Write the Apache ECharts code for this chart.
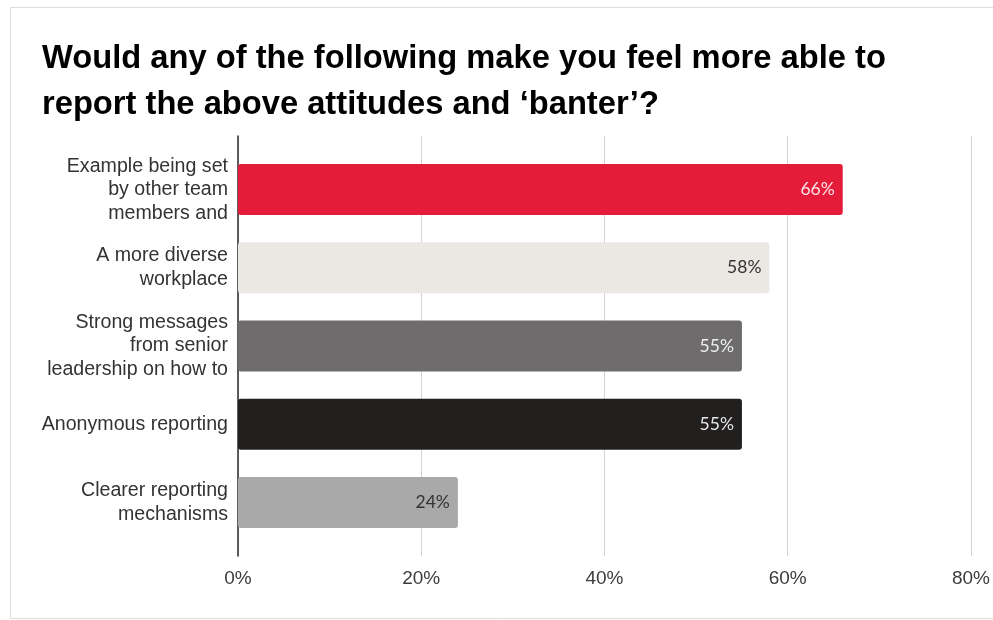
<!DOCTYPE html>
<html>
<head>
<meta charset="utf-8">
<title>Reporting attitudes and banter</title>
<script src="https://cdn.jsdelivr.net/npm/echarts@6/dist/echarts.min.js"></script>
<style>
  html, body { margin: 0; padding: 0; background: #ffffff; }
  #chart { width: 993px; height: 620px; }
</style>
</head>
<body>
<div id="chart"></div>
<script>
// Survey answers, top to bottom
const categories = [
  'Example being set\nby other team\nmembers and',
  'A more diverse\nworkplace',
  'Strong messages\nfrom senior\nleadership on how to',
  'Anonymous reporting',
  'Clearer reporting\nmechanisms'
];
// Share of respondents (%)
const values = [66, 58, 55, 55, 24];
// Per-bar fill and value-label colours
const barColors = ['#e41c3a', '#ebe8e4', '#6e6c6c', '#221f1f', '#a9a9a9'];
const labelColors = ['#fbe3e6', '#333333', '#eeeeee', '#e6e6e6', '#333333'];
// Horizontal scale
const xMin = 0, xMax = 80, xStep = 20;

const chart = echarts.init(document.getElementById('chart'), null, { renderer: 'canvas' });

const FONT = '"Liberation Sans", Arial, sans-serif';

const option = {
  backgroundColor: '#ffffff',
  animation: false,
  title: {
    text: 'Would any of the following make you feel more able to\nreport the above attitudes and \u2018banter\u2019?',
    left: 42,
    top: 36,
    padding: 0,
    textStyle: {
      fontFamily: FONT,
      fontWeight: 'bold',
      fontSize: 32.7,
      lineHeight: 46,
      color: '#000000'
    }
  },
  graphic: [{
    type: 'rect',
    silent: true,
    z: -10,
    shape: { x: 10.5, y: 7.5, width: 1000, height: 611 },
    style: { fill: 'none', stroke: '#dddddd', lineWidth: 1 }
  }],
  grid: [
    // frame grid: gridlines and the left axis line
    { left: 238, right: 22, top: 136, bottom: 64 },
    // bar grid
    { left: 238, right: 22, top: 150.5, bottom: 78.5 }
  ],
  xAxis: [{
    gridIndex: 0,
    type: 'value',
    min: xMin, max: xMax, interval: xStep,
    axisLine: { show: false },
    axisTick: { show: false },
    splitLine: { show: true, lineStyle: { color: '#d3d3d3', width: 1 } },
    axisLabel: {
      formatter: '{value}%',
      fontFamily: FONT,
      fontSize: 19,
      color: '#3c3c3c',
      margin: 13
    }
  }, {
    gridIndex: 1,
    type: 'value',
    min: xMin, max: xMax, interval: xStep,
    show: false
  }],
  yAxis: [{
    gridIndex: 0,
    type: 'value',
    min: 0, max: 1,
    axisLine: { show: true, onZero: false, lineStyle: { color: '#2a2a2a', width: 1.5 } },
    axisTick: { show: false },
    axisLabel: { show: false },
    splitLine: { show: false }
  }, {
    gridIndex: 1,
    type: 'category',
    inverse: true,
    data: categories,
    axisLine: { show: false },
    axisTick: { show: false },
    splitLine: { show: false },
    axisLabel: {
      fontFamily: FONT,
      fontSize: 19.6,
      lineHeight: 23.5,
      color: '#333333',
      align: 'right',
      margin: 10
    }
  }],
  series: [{
    type: 'bar',
    xAxisIndex: 1,
    yAxisIndex: 1,
    barWidth: 51,
    data: values.map((v, i) => ({
      value: v,
      itemStyle: { color: barColors[i], borderRadius: 3 },
      label: { color: labelColors[i] }
    })),
    label: {
      show: true,
      position: 'insideRight',
      distance: 8,
      formatter: '{c}%',
      fontFamily: 'Lato, "Open Sans", sans-serif',
      fontSize: 17.5
    }
  }]
};

chart.setOption(option);
</script>
</body>
</html>
